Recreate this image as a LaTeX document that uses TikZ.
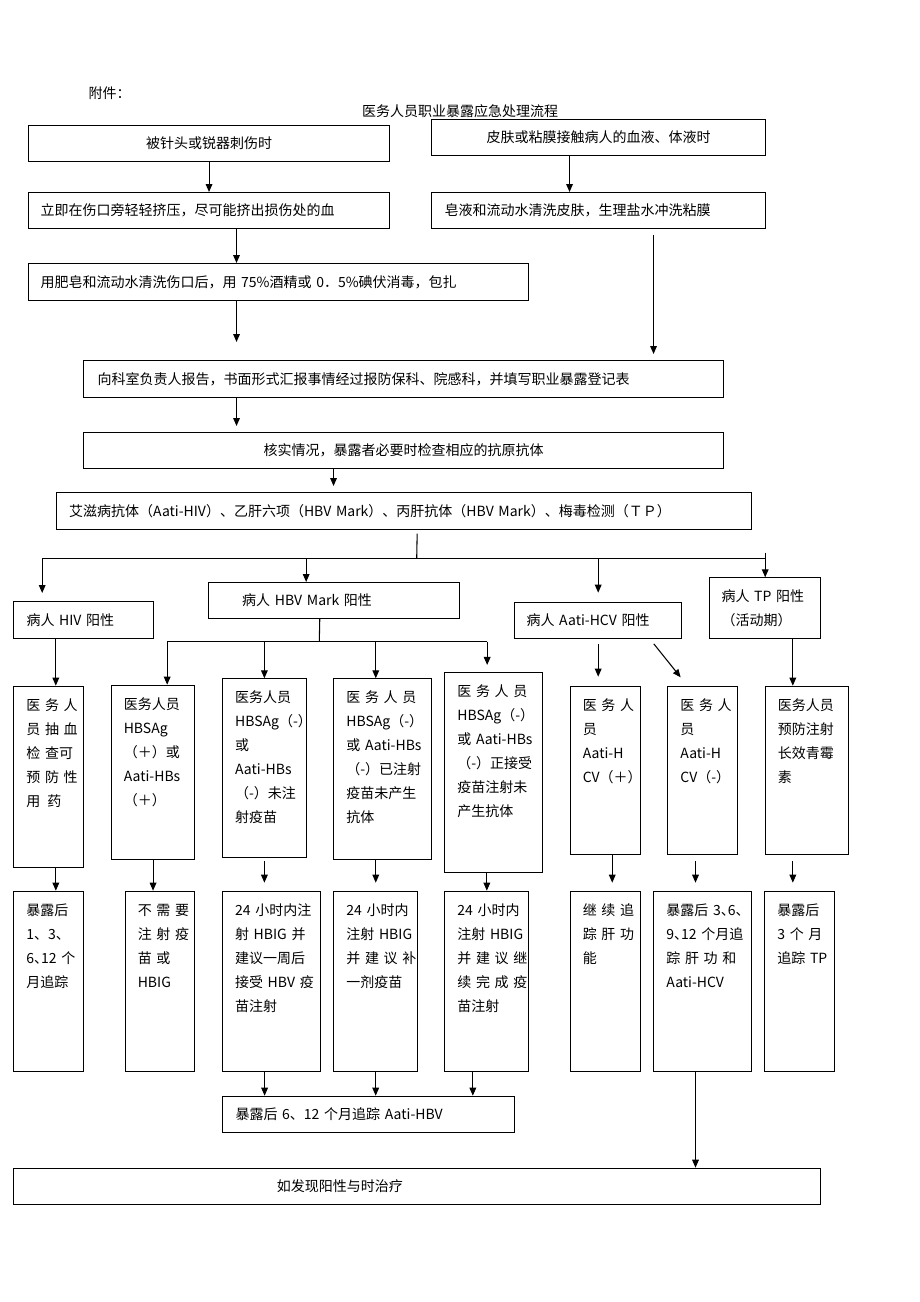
\documentclass[tikz,border=0pt]{standalone}
\usepackage{fontspec}
\setmainfont{Noto Sans CJK SC}
\usepackage{tikz}
\usetikzlibrary{arrows.meta}
\exhyphenpenalty=10000
\hyphenpenalty=10000
\tikzset{every node/.style={font=\fontsize{10.5}{18}\selectfont},
         hb/.style 2 args={draw, line width=0.8pt, anchor=north west,
         inner sep=0pt, minimum width=#1, minimum height=#2},
         vb/.style 2 args={draw, line width=0.8pt, anchor=north west,
         inner xsep=9.4pt, inner ysep=0pt, text width=#1,
         text height=18pt, text depth=#2, align=left},
         arr/.style={-{Triangle[length=6pt,width=5pt]}, line width=0.8pt},
         ln/.style={line width=0.8pt}}
\newcommand{\jline}[1]{\makebox[\linewidth][s]{#1}}
\newcommand{\dun}{、\kern-.5em}

\begin{document}
\begin{tikzpicture}[x=0.75pt, y=-0.75pt]
\useasboundingbox (0,0) rectangle (920,1302);

\node [anchor=west] (fj) at (84,93) {附件：};
\node (bt) at (460,111) {医务人员职业暴露应急处理流程};

\node [hb={270.75pt}{27pt}] (zs) at (28,125) {被针头或锐器刺伤时};
\node [hb={250.5pt}{27pt}] (pf) at (431,119) {皮肤或粘膜接触病人的血液、体液时};
\node [hb={270.75pt}{27pt}, text width=252.75pt, align=left] (jy) at (28,192) {立即在伤口旁轻轻挤压，尽可能挤出损伤处的血};
\node [hb={250.5pt}{27pt}, text width=231pt, align=left] (cx) at (431,192) {皂液和流动水清洗皮肤，生理盐水冲洗粘膜};
\node [hb={375pt}{27.5pt}, text width=357pt, align=left] (xd) at (28,263) {用肥皂和流动水清洗伤口后，用 75\%酒精或 0．5\%碘伏消毒，包扎};
\node [hb={480pt}{27.5pt}, text width=459pt, align=left] (bg) at (83,360) {向科室负责人报告，书面形式汇报事情经过报防保科、院感科，并填写职业暴露登记表};
\node [hb={480pt}{27pt}] (hs) at (83,432) {核实情况，暴露者必要时检查相应的抗原抗体};
\node [hb={521.25pt}{27.5pt}, text width=502.35pt, align=left] (jc) at (56,492) {艾滋病抗体（Aati-HIV）、乙肝六项（HBV Mark）、丙肝抗体（HBV Mark）、梅毒检测（ＴＰ）};

\node [hb={104.55pt}{27.5pt}, text width=85.5pt, align=left] (hiv) at (13.3,601) {病人 HIV 阳性};
\node [hb={188pt}{27pt}, text width=137.9pt, align=left] (hbv) at (208.3,582) {病人 HBV Mark 阳性};
\node [hb={125.5pt}{27.5pt}, text width=107.5pt, align=left] (hcv) at (514,601.7) {病人 Aati-HCV 阳性};
\node [hb={83.5pt}{45.3pt}, text width=65.5pt, align=left] (tp) at (709,577.3) {\jline{病人 TP 阳性}\\（活动期）};

\node [vb={33.7pt}{117.75pt}] (hiv1) at (13.3,685.7) {\jline{医 务 人}\\\jline{员 抽 血}\\\jline{检 查可}\\\jline{预 防 性}\\用\enspace 药};
\node [vb={43.9pt}{112.95pt}] (hbv1) at (110.7,684.7) {医务人员\\HBSAg\\（＋）或\\Aati-HBs\\（＋）};
\node [vb={44pt}{115.8pt}] (hbv2) at (222,678.3) {医务人员\\\mbox{HBSAg（-）}\\或\\Aati-HBs\\\mbox{（-）未注}\\射疫苗};
\node [vb={54.5pt}{117.75pt}] (hbv3) at (333.3,678.3) {\jline{医 务 人 员}\\\mbox{HBSAg（-）}\\\mbox{或 Aati-HBs}\\\mbox{（-）已注射}\\疫苗未产生\\抗体};
\node [vb={54.5pt}{131.55pt}] (hbv4) at (444.3,672.3) {\jline{医 务 人 员}\\\mbox{HBSAg（-）}\\\mbox{或 Aati-HBs}\\\mbox{（-）正接受}\\疫苗注射未\\产生抗体};
\node [vb={33.7pt}{108.45pt}] (hcv1) at (569.7,685.7) {\jline{医 务 人}\\员\\Aati-H\\\mbox{CV（＋）}};
\node [vb={33.5pt}{108.45pt}] (hcv2) at (667.3,685.7) {\jline{医 务 人}\\员\\Aati-H\\\mbox{CV（-）}};
\node [vb={43.9pt}{108.45pt}] (tp1) at (764.7,685.7) {医务人员\\预防注射\\长效青霉\\素};

\node [vb={33.7pt}{117.45pt}] (hivf) at (13.3,890.7) {暴露后\\1、3、\\\mbox{6\dun 12 个}\\月追踪};
\node [vb={33.4pt}{117.45pt}] (hbvf1) at (124.7,890.7) {\jline{不 需 要}\\\jline{注 射 疫}\\\jline{苗 或}\\HBIG};
\node [vb={54.5pt}{117.45pt}] (hbvf2) at (222,890.7) {\jline{24 小时内注}\\\jline{射 HBIG 并}\\建议一周后\\\jline{接受 HBV 疫}\\苗注射};
\node [vb={44pt}{117.45pt}] (hbvf3) at (333.3,890.7) {\mbox{24 小时内}\\\mbox{注射 HBIG}\\\jline{并 建 议 补}\\一剂疫苗};
\node [vb={44.2pt}{117.45pt}] (hbvf4) at (444.3,890.7) {\mbox{24 小时内}\\\mbox{注射 HBIG}\\\jline{并 建 议 继}\\\jline{续 完 成 疫}\\苗注射};
\node [vb={33.7pt}{117.45pt}] (hcvf1) at (569.7,890.7) {\jline{继 续 追}\\\jline{踪 肝 功}\\能};
\node [vb={54.5pt}{117.45pt}] (hcvf2) at (653.3,890.7) {\mbox{暴露后 3\dun 6\dun}\\\mbox{9\dun 12 个月追}\\\jline{踪 肝 功 和}\\Aati-HCV};
\node [vb={33.7pt}{117.45pt}] (tpf) at (764.3,890.7) {暴露后\\\jline{3 个 月}\\\mbox{追踪 TP}};

\node [hb={219.2pt}{27pt}, text width=199.7pt, align=left] (zz) at (222,1095.7) {暴露后 6、12 个月追踪 Aati-HBV};
\node [hb={605.25pt}{27.25pt}, text width=210.75pt, align=left] (zl) at (13.3,1167.7) {如发现阳性与时治疗};

\draw [arr] (zs) -- (jy);
\draw [arr] ([xshift=-21.75pt]pf.south) -- ([xshift=-21.75pt]cx.north);
\draw [arr] ([xshift=20.6pt]jy.south) -- ([xshift=20.6pt]jy.south |- xd.north);
\draw [arr, shorten >=13.5pt] ([xshift=-31.5pt]xd.south) -- ([xshift=-31.5pt]xd.south |- bg.north);
\draw [arr, shorten <=4.5pt, shorten >=4.5pt] ([xshift=41.25pt]cx.south) -- ([xshift=41.25pt]cx.south |- bg.north);
\draw [arr, shorten >=4.5pt] ([xshift=-125.25pt]bg.south) -- ([xshift=-125.25pt]bg.south |- hs.north);
\draw [arr, shorten >=4.5pt] ([xshift=-52.5pt]hs.south) -- ([xshift=-52.5pt]hs.south |- jc.north);

\coordinate (fz) at (416.7,558.5);
\draw [ln, shorten <=3pt] ([xshift=9.9pt]jc.south) -- (fz);
\draw [ln] ([xshift=-31pt]hiv.north |- fz) -- (tp.north |- fz);
\draw [arr, shorten >=6pt] ([xshift=-31pt]hiv.north |- fz) -- ([xshift=-31pt]hiv.north);
\draw [arr] ([xshift=-21pt]hbv.north |- fz) -- ([xshift=-21pt]hbv.north);
\draw [arr, shorten >=6.75pt] (hcv.north |- fz) -- (hcv.north);
\draw [arr, shorten <=-4.5pt] (tp.north |- fz) -- (tp.north);

\draw [arr] ([xshift=-20.8pt]hiv.south) -- ([xshift=-20.8pt]hiv.south |- hiv1.north);
\coordinate (yg) at (319.3,641.5);
\draw [ln] ([xshift=-10.8pt]hbv.south) -- (yg);
\draw [ln] ([xshift=10.6pt]hbv1.north |- yg) -- ([xshift=-4.9pt]hbv4.north |- yg);
\draw [arr] ([xshift=10.6pt]hbv1.north |- yg) -- ([xshift=10.6pt]hbv1.north);
\draw [arr] (hbv2.north |- yg) -- (hbv2.north);
\draw [arr] ([xshift=-5.2pt]hbv3.north |- yg) -- ([xshift=-5.2pt]hbv3.north);
\draw [arr, shorten >=5.5pt] ([xshift=-4.9pt]hbv4.north |- yg) -- ([xshift=-4.9pt]hbv4.north);
\draw [arr, shorten <=3.3pt, shorten >=6.75pt] (hcv.south) -- (hcv.south |- hcv1.north);
\draw [arr] ([xshift=41.7pt,yshift=-3.3pt]hcv.south) -- ([xshift=10pt,yshift=6.3pt]hcv2.north west);
\draw [arr] ([xshift=20.7pt]tp.south) -- ([xshift=20.7pt]tp.south |- tp1.north);

\draw [arr] ([xshift=5.25pt]hiv1.south) -- ([xshift=5.25pt]hiv1.south |- hivf.north);
\draw [arr] (hbv1.south) -- (hbv1.south |- hbvf1.north);
\draw [arr, shorten <=2.5pt, shorten >=6pt] (hbv2.south) -- (hbv2.south |- hbvf2.north);
\draw [arr, shorten >=6pt] ([xshift=-5.2pt]hbv3.south) -- ([xshift=-5.2pt]hbv3.south |- hbvf3.north);
\draw [arr] (hbvf4.north |- hbv4.south) -- (hbvf4.north);
\draw [arr, shorten >=6pt] ([xshift=5.25pt]hcv1.south) -- ([xshift=5.25pt]hcv1.south |- hcvf1.north);
\draw [arr, shorten <=4.3pt, shorten >=6pt] ([xshift=-5.4pt]hcv2.south) -- ([xshift=-5.4pt]hcv2.south |- hcvf2.north);
\draw [arr, shorten <=4.3pt, shorten >=6pt] ([xshift=-10.65pt]tp1.south) -- ([xshift=-10.65pt]tp1.south |- tpf.north);

\draw [arr] ([xshift=-5.1pt]hbvf2.south) -- ([xshift=-5.1pt]hbvf2.south |- zz.north);
\draw [arr] (hbvf3.south) -- (hbvf3.south |- zz.north);
\draw [arr] ([xshift=-10.5pt]hbvf4.south) -- ([xshift=-10.5pt]hbvf4.south |- zz.north);
\draw [arr] ([xshift=-5.4pt]hcvf2.south) -- ([xshift=-5.4pt]hcvf2.south |- zl.north);
\end{tikzpicture}
\end{document}
